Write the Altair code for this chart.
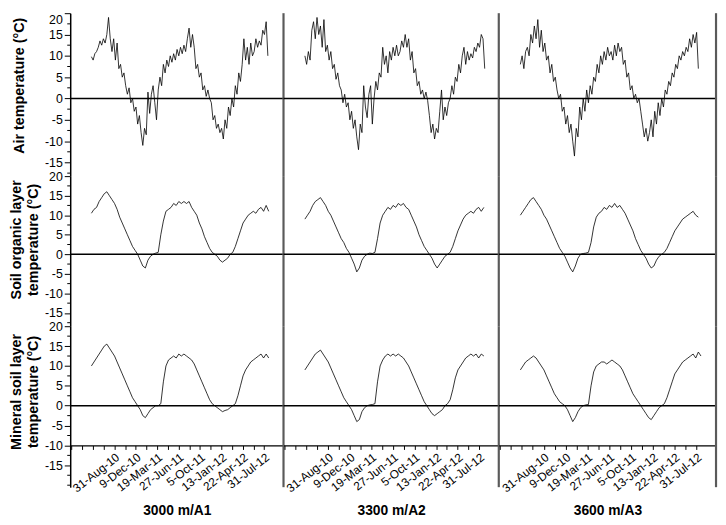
import altair as alt
import pandas as pd

sites = ["3000 m/A1", "3300 m/A2", "3600 m/A3"]
row_titles = [["Air temperature (°C)"],
              ["Soil organic  layer", "temperature (°C)"],
              ["Mineral soil layer", "temperature (°C)"]]
tick_labels = ["31-Aug-10", "9-Dec-10", "19-Mar-11", "27-Jun-11",
               "5-Oct-11", "13-Jan-12", "22-Apr-12", "31-Jul-12"]
y_labels = [-15, -10, -5, 0, 5, 10, 15, 20]
start_date = "2010-05-16"
air_step_days = 8
soil_step_days = 12

air_a1 = [9.8, 9, 10.5, 11, 12, 13.5, 12.5, 14, 13, 15, 19, 14, 11, 14, 9, 13, 7, 8, 5, 6,
          3, 1, 2.5, -1, 0, -3, -2, -6, -4, -8, -11, -7, -8.5, 1.5, -3.5, 1, 3, -1, -5, 2,
          5, 3, 8, 6, 9, 7.5, 10, 8.5, 10.5, 9, 11.5, 10, 12, 10.5, 12.5, 11, 14, 16.5, 12, 15,
          12, 7, 8, 5, 6, 2, 3, 0.5, 2, 0, -1, -5, -4, -7, -6, -8, -7, -9.5, -5, -7,
          -2, -4, 0, -2, 3, 1, 6, 4, 8, 14, 9, 12, 8, 13, 10, 11, 14, 12, 13.5, 12.5,
          16, 15, 18, 10]
air_a2 = [10, 8, 11, 9, 16, 18, 14, 19, 15, 17, 12, 18.5, 11, 12.5, 9, 11, 7, 8, 4.5, 6,
          3, 2, -1, 1, -2, -1, -5, -3, -7, -5, -9, -12, -6, -8, 3, -2, -4.5, 1, 3, -6,
          0, 4, 2, 6, 5, 12, 8, 10, 6, 11, 9, 12, 10, 12.5, 10, 11, 13.5, 12, 15, 12,
          14, 9, 11, 6, 7, 3, 4, 1, 2, 0, 1.5, -0.5, -4, -8, -6, -9.5, -7, -8, -3, 2,
          -5, -2, -4, -1, 0, 3, 1, 5, 4, 8, 6, 10, 12, 8, 11, 9, 10.5, 9.5, 12, 11,
          13, 12, 15, 14, 7]
air_a3 = [8, 10, 7, 11, 12, 10, 15, 13, 17, 14, 18.5, 12, 16, 11, 13, 9, 10, 6, 8, 4,
          5, 2, 0, 1, -3, -2, -6, -4, -8, -6, -10, -13.5, -7, -9, -2, -5, 0, -3, 2, -1,
          3, 1, 5, 4, 8, 6, 10, 8, 11, 9, 12, 10, 11, 9, 12.5, 10, 13, 11, 12, 8,
          9, 5, 6, 2, 3, 0, 1, -1, 0, -3, -6, -9, -7, -10, -8, -5, -9, -3, -6, -1,
          -4, 0, -2, 2, 1, 4, 3, 6, 5, 8, 7, 10, 9, 11, 10, 12, 11, 14, 12, 15,
          13, 15.5, 7]
org_a1 = [10.5, 11.5, 12, 13.5, 14.5, 15.5, 16, 15, 14, 13, 11.5, 9.5, 8, 6.5, 5, 3.5, 2, 1, 0, -1.5,
          -3, -3.5, -1.5, -0.5, 0, 0.3, 0.5, 5, 8.5, 11, 11.5, 12, 13, 12.5, 13.5, 13, 13.5, 13, 13.5, 12,
          11, 10, 8, 6.5, 4.5, 3, 1.5, 0.5, 0, -0.5, -1.5, -2, -1.5, -1, 0, 0.5, 2, 4, 6, 8,
          9, 10, 10.5, 11, 10.5, 11.5, 12, 11, 12.5, 11]
org_a2 = [9, 10, 11, 12.5, 13.5, 14, 14.5, 13.5, 12.5, 11, 10, 8.5, 7, 5.5, 4, 3, 1.5, 0.5, -1, -2.5,
          -4.5, -3.5, -1.5, -0.5, 0, 0.3, 0.2, 0.5, 4, 8, 10, 11, 12, 11.5, 12.5, 12, 13, 12.5, 13, 12,
          11.5, 10, 8.5, 7, 5, 3.5, 2, 1, 0, -1, -2.5, -3.5, -2.5, -1.5, -0.5, 0, 0.5, 2, 4, 6,
          7.5, 9, 10, 10.5, 11, 10.5, 11.5, 12, 11, 12]
org_a3 = [10, 11, 12, 13, 14, 14.5, 13.5, 12.5, 11.5, 10, 9, 7.5, 6, 4.5, 3, 1.5, 0.5, -0.5, -2, -3.5,
          -4.5, -3, -1, 0, 0.2, 0.3, 0.5, 3, 7, 9.5, 10.5, 11, 12, 11.5, 12.5, 12, 13, 12, 12.5, 11.5,
          10.5, 9, 7.5, 6, 4, 2.5, 1, 0, -1, -2.5, -3.5, -3, -1.5, -0.5, 0, 0.5, 1.5, 3, 4.5, 6,
          7, 8, 9, 9.5, 10, 10.5, 11, 10, 9.5]
min_a1 = [10, 11, 12, 13, 14, 15, 15.5, 14.5, 13.5, 12.5, 11, 9.5, 8, 6.5, 5, 3.5, 2, 1, 0, -1,
          -2.5, -3, -2, -1, -0.5, 0, 0, 0.5, 6, 10, 11.5, 12, 12.5, 12, 13, 12.5, 13, 12.5, 12, 11.5,
          10.5, 9, 7.5, 6, 4.5, 3, 1.5, 0.5, 0, -0.5, -1, -1.5, -1.2, -1, -0.5, 0, 0.5, 2.5, 5, 7.5,
          9, 10, 11, 11.5, 12, 12.5, 13, 12, 13, 12]
min_a2 = [9, 10, 11, 12, 13, 13.5, 14, 13, 12, 11, 9.5, 8, 6.5, 5, 3.5, 2, 1, 0, -1, -2.5,
          -4, -3.5, -1.5, -0.5, 0, 0.2, 0.3, 0.5, 6, 10, 11.5, 12.5, 13, 12.5, 13, 12.5, 13, 12.5, 12, 11,
          10, 8.5, 7, 5.5, 4, 2.5, 1, 0, -1, -2, -2.5, -2, -1.5, -1, 0, 0.5, 1.5, 4, 7, 9,
          10, 11, 12, 12.5, 13, 12.5, 13, 12, 13, 12.5]
min_a3 = [9, 10, 11, 11.5, 12, 12.5, 12, 11, 10, 9, 7.5, 6, 4.5, 3, 2, 1, 0.5, 0, -1, -2.5,
          -4, -3, -1.5, -0.5, 0, 0.2, 0.3, 5, 8.5, 10, 10.5, 11, 11, 10.5, 11, 11.5, 11, 10.5, 10, 9,
          7.5, 6, 4.5, 3, 2, 1, 0, -1, -2, -3, -3.5, -2.5, -1.5, -0.5, 0, 0.5, 2, 4, 6, 8,
          9, 10, 11, 11.5, 12, 12.5, 13, 12, 13.5, 12.5]

series = [[air_a1, air_a2, air_a3], [org_a1, org_a2, org_a3], [min_a1, min_a2, min_a3]]
steps = [air_step_days, soil_step_days, soil_step_days]

x_domain = ["2010-02-06", "2012-10-29"]
y_domains = [[-18.2, 20], [-18.4, 20], [-20.5, 20]]
heights = [165, 152, 163]
widths = [216, 218, 220]
FONT = "Liberation Sans"

x_ticks = [d.strftime("%Y-%m-%d") for d in pd.date_range("2010-02-12", "2012-07-31", freq="50D")]
lab_arr = "[" + ",".join("'" + t + "'" for t in tick_labels) + "]"
x_label_expr = ("indexof(" + lab_arr + ", utcFormat(datum.value, '%-d-%b-%y')) >= 0 ? "
                "utcFormat(datum.value, '%-d-%b-%y') : ''")
title_y = [73, 64, 66]
title_x = [-51, -54.5, -54.5]


def minor_ticks(lo):
    out = []
    v = 20.0
    while v >= lo:
        if v not in y_labels:
            out.append(v)
        v -= 2.5
    return out


def cell(r, c):
    vals = series[r][c]
    dates = pd.date_range(start_date, periods=len(vals), freq=f"{steps[r]}D").strftime("%Y-%m-%d")
    df = pd.DataFrame({"date": list(dates), "temp": vals})
    H = heights[r]
    W = widths[c]
    lo, hi = y_domains[r]
    yscale = alt.Scale(domain=[lo, hi], nice=False, zero=False)
    if r == 2:
        xaxis = alt.Axis(values=x_ticks, labelExpr=x_label_expr, labelAngle=-38,
                         labelFontSize=12, labelFont=FONT, labelColor="black",
                         tickSize=4, tickColor="black", domainColor="black", domainWidth=1.3,
                         grid=False, offset=-((-10 - lo) / (hi - lo)) * H, labelPadding=2,
                         titleFont=FONT, titleFontSize=14, titleFontWeight="bold",
                         titleColor="black", titlePadding=10, labelOverlap=False)
    else:
        xaxis = None
    if c == 0:
        base = "middle"
        if r == 0:
            base = {"condition": {"test": "datum.value == 20", "value": "top"}, "value": "middle"}
        yaxis = alt.Axis(values=y_labels, labelExpr="toString(datum.value)",
                         labelFont=FONT, labelFontSize=12.5,
                         labelColor="black", labelPadding=2, labelOverlap=False,
                         labelBaseline=base, tickSize=6,
                         tickColor="black", domainColor="black", domainWidth=1.5, grid=False,
                         titleFont=FONT, titleFontSize=14.5, titleFontWeight="bold",
                         titleColor="black", titleLineHeight=17, titleBaseline="middle",
                         titleX=title_x[r], titleY=title_y[r])
    else:
        yaxis = None

    def Y():
        return alt.Y("temp:Q", scale=yscale, axis=yaxis, title=row_titles[r])

    line = alt.Chart(df).mark_line(color="black", strokeWidth=0.8).encode(
        x=alt.X("date:T", scale=alt.Scale(type="utc", domain=x_domain), axis=xaxis, title=sites[c]),
        y=Y(),
    )
    zero = alt.Chart(pd.DataFrame({"temp": [0.0]})).mark_rule(color="black", strokeWidth=1.4).encode(y=Y())
    one = pd.DataFrame({"k": [0]})
    div = alt.Chart(one).mark_rule(color="#5a5a5a", strokeWidth=2.2).encode(
        x=alt.value(W), y=alt.value(0), y2=alt.value(H))
    layers = [line, zero, div]
    if c == 0:
        mt = pd.DataFrame({"temp": minor_ticks(lo)})
        minor = alt.Chart(mt).mark_rule(color="black", strokeWidth=1).encode(
            y=Y(), x=alt.value(-3), x2=alt.value(0))
        layers.append(minor)
    return alt.layer(*layers).properties(width=W, height=H)


cells = [cell(r, c) for r in range(3) for c in range(3)]
chart = alt.concat(*cells, columns=3, spacing=0, bounds="flush", align="each").properties(
    padding={"left": 0, "top": 0, "right": 0, "bottom": 0}
).configure(font=FONT).configure_view(stroke=None)

chart.save("out.html", embed_options={"renderer": "svg", "actions": False})
